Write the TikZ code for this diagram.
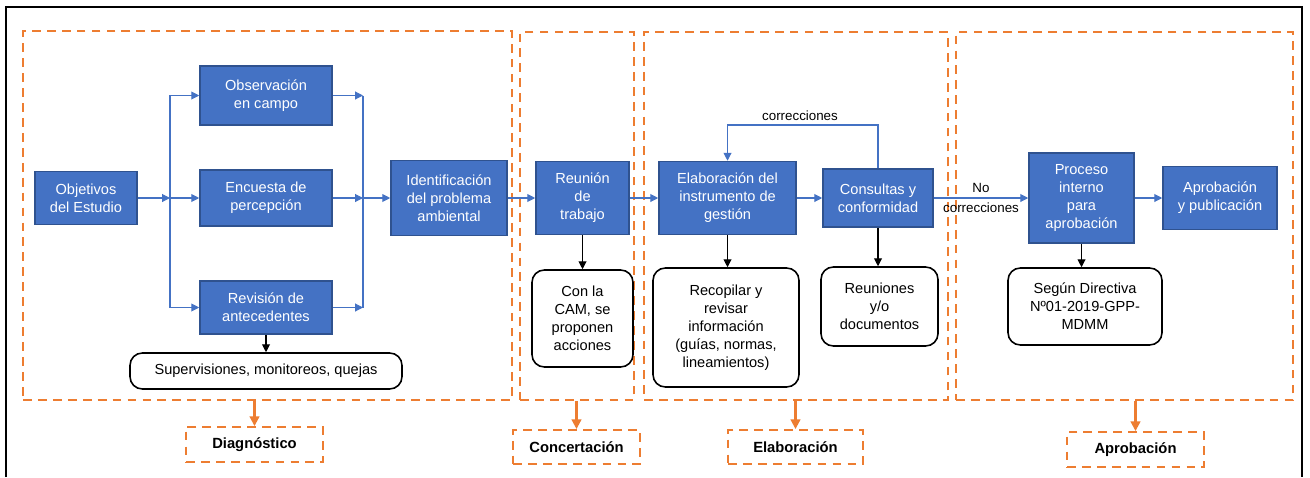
\documentclass[tikz,border=0pt]{standalone}
\usepackage{fontspec}
\setmainfont{Liberation Sans}
\usetikzlibrary{arrows.meta,calc}
\definecolor{bluebox}{HTML}{4472C4}
\definecolor{blueedge}{HTML}{2F528F}
\definecolor{orangeline}{HTML}{ED7D31}

\begin{document}
\begin{tikzpicture}[x=0.02cm,y=-0.02cm,line join=miter,
  font=\fontsize{8.3}{10.2}\selectfont,
  blk/.style={draw=blueedge,line width=0.9pt,fill=bluebox,text=white,align=center,inner sep=1pt},
  nota/.style={draw=black,line width=0.9pt,rounded corners=7pt,fill=white,align=center,inner sep=1pt},
  zona/.style={draw=orangeline,line width=1.1pt,dash pattern=on 5pt off 3.5pt},
  etapa/.style={zona,font=\fontsize{8.4}{10}\selectfont\bfseries},
  flujo/.style={draw=bluebox,line width=0.6pt,-{Triangle[length=4.5pt,width=4.5pt]}},
  baja/.style={draw=black,line width=0.6pt,-{Triangle[length=4.5pt,width=4.5pt]}},
  naranja/.style={draw=orangeline,line width=1.2pt,-{Triangle[length=5.5pt,width=5.5pt]}}]
\useasboundingbox (0,0) rectangle (1310,477);
\draw[line width=1.2pt] (6,477) -- (6,7) -- (1302,7) -- (1302,477);

% etapas
\node[zona,minimum width=9.78cm,minimum height=7.38cm] (diag) at (267.5,215.5) {};
\node[zona,minimum width=2.28cm,minimum height=7.36cm] (conc) at (577,216) {};
\node[zona,minimum width=6.08cm,minimum height=7.36cm] (elab) at (796,216) {};
\node[zona,minimum width=6.74cm,minimum height=7.36cm] (apro) at (1124.5,216) {};

\node[etapa,minimum width=2.74cm,minimum height=0.7cm] (ldiag) at (254.5,444.5) {Diagnóstico};
\node[etapa,minimum width=2.54cm,minimum height=0.68cm] (lconc) at (576.5,447) {Concertación};
\node[etapa,minimum width=2.7cm,minimum height=0.68cm] (lelab) at (795.5,447) {Elaboración};
\node[etapa,minimum width=2.74cm,minimum height=0.7cm] (lapro) at (1135.5,449.5) {Aprobación};

% diagnostico
\node[blk,minimum width=2.04cm,minimum height=1.06cm] (obj) at (86,198) {Objetivos\\del Estudio};
\node[blk,minimum width=2.64cm,minimum height=1.18cm] (obs) at (266,95.5) {Observación\\en campo};
\node[blk,minimum width=2.64cm,minimum height=1.12cm] (enc) at (266,198) {Encuesta de\\percepción};
\node[blk,minimum width=2.64cm,minimum height=1.06cm] (rev) at (266,307.5) {Revisión de\\antecedentes};
\node[nota,minimum width=5.44cm,minimum height=0.72cm] (sup) at (266,371) {Supervisiones, monitoreos, quejas};
\node[blk,minimum width=2.32cm,minimum height=1.5cm] (ide) at (449,198) {Identificación\\del problema\\ambiental};
\coordinate (jl) at (170,198);
\coordinate (jr) at (363,198);

% concertacion
\node[blk,minimum width=1.86cm,minimum height=1.46cm] (reu) at (582.5,198) {Reunión\\de\\trabajo};
\node[nota,minimum width=2.02cm,minimum height=1.94cm] (cam) at (582.5,318.5) {Con la\\CAM, se\\proponen\\acciones};

% elaboracion
\node[blk,minimum width=2.74cm,minimum height=1.46cm] (ela) at (727.5,198) {Elaboración del\\instrumento de\\gestión};
\node[nota,minimum width=2.92cm,minimum height=2.38cm] (rec) at (726,327.5) {Recopilar y\\revisar\\información\\(guías, normas,\\lineamientos)};
\node[blk,minimum width=2.2cm,minimum height=1.16cm] (con) at (878,198) {Consultas y\\conformidad};
\node[nota,minimum width=2.34cm,minimum height=1.58cm] (reus) at (879.5,306.5) {Reuniones\\y/o\\documentos};
\coordinate (fb) at (800,125);

% aprobacion
\node[blk,minimum width=2.1cm,minimum height=1.8cm] (pro) at (1081.5,198) {Proceso\\interno\\para\\aprobación};
\node[blk,minimum width=2.28cm,minimum height=1.26cm] (apr) at (1220,198) {Aprobación\\y publicación};
\node[nota,minimum width=3.08cm,minimum height=1.54cm] (seg) at (1085,306.5) {Según Directiva\\Nº01-2019-GPP-\\MDMM};

% flujo principal
\draw[flujo] (obj) -- (jl);
\draw[flujo] (jl) |- (obs);
\draw[flujo] (jl) -- (enc);
\draw[flujo] (jl) |- (rev);
\draw[flujo] (obs.east) -- (obs.east -| jr);
\draw[flujo] (enc.east) -- (jr);
\draw[flujo] (rev.east) -- (rev.east -| jr);
\draw[draw=bluebox,line width=0.6pt] (obs.east -| jr) -- (rev.east -| jr);
\draw[flujo] (jr) -- (ide);
\draw[flujo] (ide) -- (reu);
\draw[flujo] (reu) -- (ela);
\draw[flujo] (ela) -- (con);
\draw[flujo] (con.north) |- (fb) node[above,inner sep=2pt,font=\fontsize{7.6}{9}\selectfont] {correcciones} -| (ela.north);
\draw[flujo] (con) -- (pro) node[midway,align=center,font=\fontsize{7.6}{11.3}\selectfont] {No\\correcciones};
\draw[flujo] (pro) -- (apr);

% notas
\draw[baja] (rev) -- (sup);
\draw[baja] (reu) -- (cam);
\draw[baja] (ela.south) -- (ela.south |- rec.north);
\draw[baja] (con.south) -- (con.south |- reus.north);
\draw[baja] (pro.south) -- (pro.south |- seg.north);

% etapas
\draw[naranja] (ldiag.north |- diag.south) -- (ldiag.north);
\draw[naranja] (lconc.north |- conc.south) -- (lconc.north);
\draw[naranja] (lelab.north |- elab.south) -- (lelab.north);
\draw[naranja] (lapro.north |- apro.south) -- (lapro.north);
\end{tikzpicture}
\end{document}
